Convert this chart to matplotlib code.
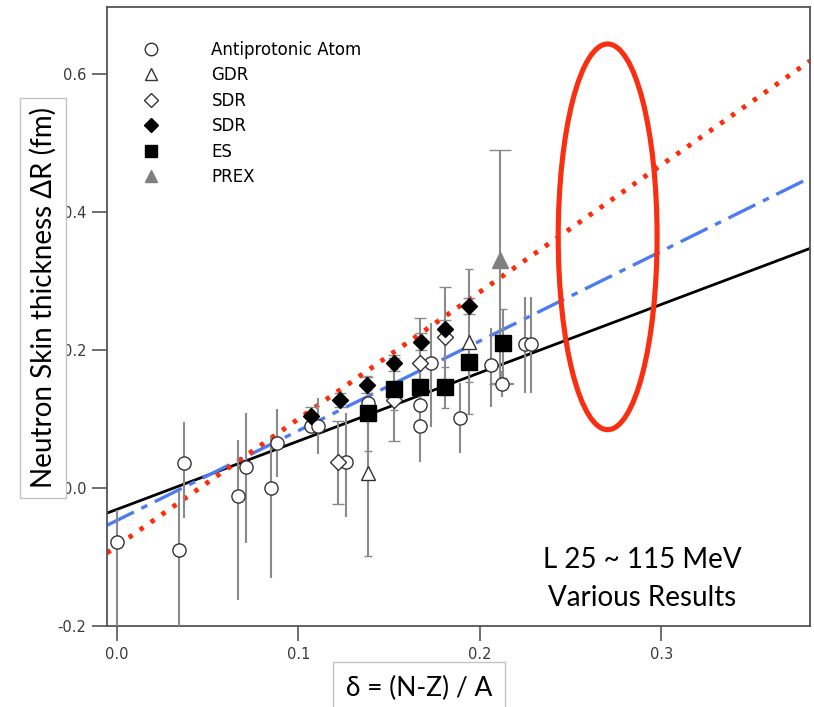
"""Neutron skin thickness vs. isospin asymmetry, various results."""

import matplotlib

matplotlib.use("Agg")
import matplotlib.pyplot as plt
import numpy as np
from matplotlib.lines import Line2D
from matplotlib.patches import Ellipse

# Antiprotonic atoms (open circles): delta, dR, lower err, upper err
PBAR_X = [0.000, 0.034, 0.037, 0.067, 0.071, 0.085, 0.088, 0.107, 0.111, 0.126,
          0.1385, 0.167, 0.167, 0.173, 0.189, 0.206, 0.2125, 0.225, 0.228]
PBAR_Y = [-0.079, -0.090, 0.036, -0.012, 0.031, 0.000, 0.065, 0.090, 0.090, 0.037,
          0.123, 0.120, 0.090, 0.181, 0.101, 0.178, 0.150, 0.208, 0.208]
PBAR_LO = [0.160, 0.130, 0.080, 0.150, 0.111, 0.131, 0.049, 0.000, 0.041, 0.079,
           0.020, 0.040, 0.052, 0.092, 0.051, 0.060, 0.018, 0.071, 0.071]
PBAR_HI = [0.047, 0.087, 0.060, 0.081, 0.078, 0.074, 0.049, 0.000, 0.040, 0.071,
           0.020, 0.040, 0.050, 0.058, 0.051, 0.054, 0.020, 0.069, 0.069]
PBAR_XERR = [0, 0, 0, 0, 0, 0, 0, 0, 0, 0, 0, 0, 0, 0, 0, 0, 0.0065, 0, 0]

# GDR (open triangles)
GDR_X = [0.1385, 0.194]
GDR_Y = [0.022, 0.212]
GDR_ERR = [0.120, 0.105]

# SDR (open diamonds)
SDR_OPEN_X = [0.122, 0.1526, 0.167, 0.181]
SDR_OPEN_Y = [0.037, 0.128, 0.181, 0.219]
SDR_OPEN_ERR = [0.060, 0.060, 0.065, 0.072]

# SDR (filled diamonds)
SDR_FILL_X = [0.107, 0.123, 0.138, 0.1526, 0.1678, 0.181, 0.194]
SDR_FILL_Y = [0.105, 0.128, 0.149, 0.181, 0.212, 0.231, 0.264]
SDR_FILL_ERR = [0.012, 0.010, 0.012, 0.012, 0.012, 0.012, 0.012]

# Elastic scattering (filled squares)
ES_X = [0.1385, 0.1526, 0.1673, 0.181, 0.194, 0.213]
ES_Y = [0.108, 0.143, 0.147, 0.146, 0.183, 0.210]
ES_ERR = [0.055, 0.030, 0.030, 0.030, 0.030, 0.050]

# PREX
PREX_X = [0.211]
PREX_Y = [0.330]
PREX_LO = [0.18]
PREX_HI = [0.16]

# straight-line fits: (intercept, slope)
FIT_BLACK = (-0.031, 0.99)
FIT_BLUE = (-0.047, 1.30)
FIT_RED = (-0.084, 1.84)

# highlighted region (ellipse centre, width, height in data units)
ELLIPSE_XY = (0.2705, 0.364)
ELLIPSE_W = 0.0545
ELLIPSE_H = 0.559

XLIM = (-0.0055, 0.382)
YLIM = (-0.2, 0.697)
XTICKS = [0.0, 0.1, 0.2, 0.3]
YTICKS = [-0.2, 0.0, 0.2, 0.4, 0.6]

BAR_GREY = "#8a8a8a"
LABEL_FONT = ["Lato", "DejaVu Sans"]


def main():
    fig = plt.figure(figsize=(8.14, 7.07), dpi=100)
    ax = fig.add_axes([0.1314, 0.1146, 0.8636, 0.8754])

    xs = np.array(XLIM)
    for (b, m), style in [
        (FIT_BLACK, dict(color="black", lw=2.0, ls="-")),
        (FIT_BLUE, dict(color="#4d7cf2", lw=2.4, ls=(0, (9, 2.5, 2, 2.5)))),
        (FIT_RED, dict(color="#ff2a0a", lw=3.5, ls=(0, (0.9, 1.85)), dash_capstyle="butt")),
    ]:
        ax.plot(xs, b + m * xs, zorder=2, **style)

    ebar = dict(ecolor=BAR_GREY, elinewidth=1.5, ls="none", zorder=3)
    ax.errorbar(PBAR_X, PBAR_Y, yerr=[PBAR_LO, PBAR_HI], xerr=PBAR_XERR,
                fmt="o", ms=9.5, mfc="white", mec="#333333", mew=1.0, **ebar)
    ax.errorbar(GDR_X, GDR_Y, yerr=GDR_ERR, fmt="^", ms=10, mfc="white",
                mec="#333333", mew=1.0, capsize=3, **ebar)
    ax.errorbar(SDR_OPEN_X, SDR_OPEN_Y, yerr=SDR_OPEN_ERR, fmt="D", ms=8,
                mfc="white", mec="#333333", mew=1.0, capsize=4, **ebar)
    ax.errorbar(ES_X, ES_Y, yerr=ES_ERR, fmt="s", ms=11, mfc="black",
                mec="black", capsize=3, **ebar)
    ax.errorbar(SDR_FILL_X, SDR_FILL_Y, yerr=SDR_FILL_ERR, fmt="D", ms=8,
                mfc="black", mec="black", capsize=4, **ebar)
    ax.errorbar(PREX_X, PREX_Y, yerr=[PREX_LO, PREX_HI], fmt="^", ms=11,
                mfc="#7f7f7f", mec="#7f7f7f", capsize=8, **ebar)

    ax.add_patch(Ellipse(ELLIPSE_XY, ELLIPSE_W, ELLIPSE_H, fill=False,
                         ec="#fa2e10", lw=3.7, zorder=4))

    ax.set_xlim(*XLIM)
    ax.set_ylim(*YLIM)
    ax.set_xticks(XTICKS)
    ax.set_yticks(YTICKS)
    ax.set_xticklabels([f"{t:.1f}" for t in XTICKS])
    ax.set_yticklabels([f"{t:.1f}" for t in YTICKS])
    ax.tick_params(direction="out", length=11, width=1.2, color="#555555",
                   labelsize=10.5, labelcolor="#3a3a3a", pad=4)
    for spine in ax.spines.values():
        spine.set_color("#555555")
        spine.set_linewidth(1.3)

    handles = [
        Line2D([], [], ls="none", marker="o", ms=9, mfc="white", mec="#333333"),
        Line2D([], [], ls="none", marker="^", ms=9, mfc="white", mec="#333333"),
        Line2D([], [], ls="none", marker="D", ms=7, mfc="white", mec="#333333"),
        Line2D([], [], ls="none", marker="D", ms=7, mfc="black", mec="black"),
        Line2D([], [], ls="none", marker="s", ms=9, mfc="black", mec="black"),
        Line2D([], [], ls="none", marker="^", ms=9, mfc="#7f7f7f", mec="#7f7f7f"),
    ]
    labels = ["Antiprotonic Atom", "GDR", "SDR", "SDR", "ES", "PREX"]
    ax.legend(handles, labels, loc="upper left", bbox_to_anchor=(0.03, 0.97),
              frameon=False, fontsize=12, handlelength=1.0, handletextpad=3.1,
              labelspacing=0.45)

    ax.text(0.762, 0.107, "L 25 ~ 115 MeV", transform=ax.transAxes,
            ha="center", va="center", fontsize=20, family=LABEL_FONT)
    ax.text(0.762, 0.045, "Various Results", transform=ax.transAxes,
            ha="center", va="center", fontsize=20, family=LABEL_FONT)

    box = dict(boxstyle="square,pad=0.35", fc="white", ec="#c4c4c4", lw=1.0)
    fig.text(43 / 814, 1 - 298 / 707, "Neutron Skin thickness ΔR (fm)",
             rotation=90, ha="center", va="center", fontsize=20,
             family=LABEL_FONT, bbox=box, zorder=5)
    fig.text(419 / 814, 1 - 688 / 707, "δ = (N-Z) / A", ha="center",
             va="center", fontsize=19, family=LABEL_FONT,
             bbox=dict(boxstyle="square,pad=0.5", fc="white", ec="#c4c4c4", lw=1.0),
             zorder=5)

    fig.savefig("out.png", dpi=100)


if __name__ == "__main__":
    main()
